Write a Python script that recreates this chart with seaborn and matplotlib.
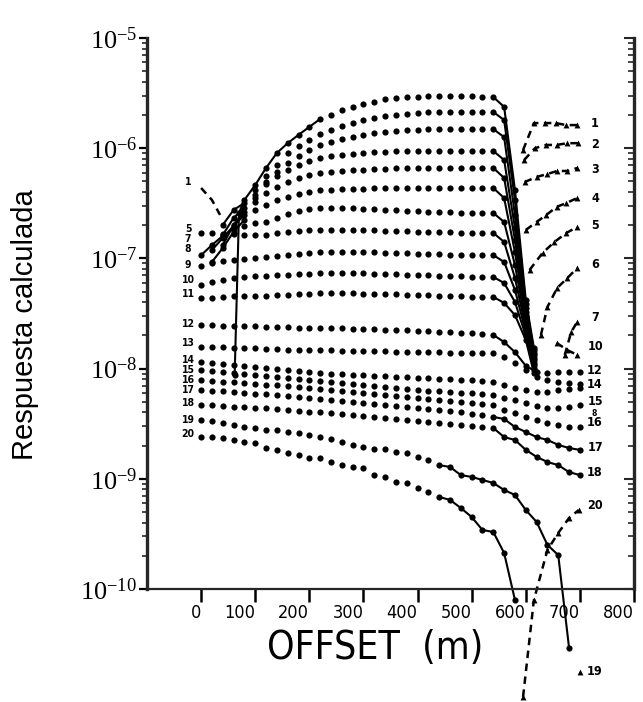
import numpy as np
import pandas as pd
import matplotlib
matplotlib.use("Agg")
import matplotlib.pyplot as plt
import matplotlib.transforms as mtransforms
import seaborn as sns
from matplotlib.ticker import LogLocator, FuncFormatter, NullFormatter, FixedLocator

# ---------------- data ----------------
OFFSETS = [0, 20, 40, 60, 80, 100, 120, 140, 160, 180, 200, 220, 240, 260,
           280, 300, 320, 340, 360, 380, 400, 420, 440, 460, 480, 500, 520, 540]
TAIL_X = [560, 580, 600, 615]
TAIL_X_LONG = [560, 580, 600, 620, 640, 660, 680, 700]
X_TICKS = [0, 100, 200, 300, 400, 500, 600, 700, 800]
Y_DECADES = [1e-10, 1e-9, 1e-8, 1e-7, 1e-6, 1e-5]

C01_X = [62, 70, 80, 100, 120, 140, 160, 180, 200, 220, 240, 260, 280, 300,
         320, 340, 360, 380, 400, 420, 440, 460, 480, 500, 520, 540]
C01_Y = [8.75e-9, 2.58e-7, 3.39e-7, 4.63e-7, 6.61e-7, 9.04e-7, 1.11e-6, 1.32e-6,
         1.56e-6, 1.84e-6, 2.0e-6, 2.22e-6, 2.37e-6, 2.52e-6, 2.63e-6, 2.80e-6,
         2.85e-6, 2.91e-6, 2.91e-6, 2.98e-6, 2.98e-6, 2.98e-6, 2.98e-6, 2.98e-6,
         2.91e-6, 2.91e-6]
C01_TAIL = [2.37e-6, 4.18e-7, 4.19e-8, 1.54e-8]
C01_NEG_LEFT_X = [0, 20, 35]
C01_NEG_LEFT_Y = [4.35e-7, 3.39e-7, 2.48e-7]
C01_NEG_X = [595, 615, 635, 655, 675, 695]
C01_NEG_Y = [9.63e-7, 1.69e-6, 1.69e-6, 1.69e-6, 1.62e-6, 1.62e-6]

C02_Y = [2.01e-7, 2.75e-7, 3.18e-7, 4.18e-7, 5.6e-7, 7.04e-7, 9.04e-7, 1.05e-6,
         1.19e-6, 1.35e-6, 1.46e-6, 1.59e-6, 1.69e-6, 1.80e-6, 1.88e-6, 1.96e-6,
         2.0e-6, 2.04e-6, 2.09e-6, 2.13e-6, 2.13e-6, 2.13e-6, 2.13e-6, 2.13e-6,
         2.13e-6, 2.13e-6]
C02_TAIL = [1.80e-6, 3.39e-7, 3.86e-8, 1.47e-8]
C02_NEG_X = [597, 617, 637, 657, 677, 697]
C02_NEG_Y = [7.81e-7, 1.0e-6, 1.07e-6, 1.07e-6, 1.11e-6, 1.11e-6]

C03_Y = [1.63e-7, 2.33e-7, 2.87e-7, 3.76e-7, 4.93e-7, 6.08e-7, 7.34e-7, 8.49e-7,
         9.63e-7, 1.07e-6, 1.14e-6, 1.21e-6, 1.26e-6, 1.32e-6, 1.37e-6, 1.40e-6,
         1.43e-6, 1.46e-6, 1.46e-6, 1.49e-6, 1.49e-6, 1.49e-6, 1.49e-6, 1.49e-6,
         1.49e-6, 1.49e-6]
C03_TAIL = [1.26e-6, 2.48e-7, 3.55e-8, 1.39e-8]
C03_NEG_X = [598, 620, 640, 658, 677, 695]
C03_NEG_Y = [4.93e-7, 5.48e-7, 5.83e-7, 6.21e-7, 6.21e-7, 6.61e-7]

C04_Y = [1.32e-7, 2.01e-7, 2.64e-7, 3.53e-7, 4.73e-7, 5.6e-7, 6.34e-7, 7.04e-7,
         7.65e-7, 8.15e-7, 8.49e-7, 8.68e-7, 8.86e-7, 9.04e-7, 9.24e-7, 9.24e-7,
         9.43e-7, 9.43e-7, 9.43e-7, 9.43e-7, 9.43e-7, 9.43e-7, 9.43e-7, 9.43e-7,
         9.43e-7, 9.43e-7]
C04_TAIL = [7.81e-7, 1.89e-7, 3.26e-8, 1.33e-8]
C04_NEG_X = [600, 620, 638, 657, 675, 695]
C04_NEG_Y = [1.81e-7, 2.14e-7, 2.48e-7, 2.93e-7, 3.18e-7, 3.53e-7]

C05_Y = [1.19e-7, 1.53e-7, 1.97e-7, 2.48e-7, 3.25e-7, 3.92e-7, 4.45e-7, 4.93e-7,
         5.37e-7, 5.71e-7, 5.96e-7, 6.08e-7, 6.21e-7, 6.34e-7, 6.34e-7, 6.48e-7,
         6.48e-7, 6.61e-7, 6.61e-7, 6.61e-7, 6.61e-7, 6.61e-7, 6.61e-7, 6.61e-7,
         6.61e-7, 6.61e-7, 6.61e-7]
C05_TAIL = [5.37e-7, 1.47e-7, 3.0e-8, 1.25e-8]
C05_NEG_X = [607, 631, 653, 675, 695]
C05_NEG_Y = [7.85e-8, 1.12e-7, 1.41e-7, 1.70e-7, 1.93e-7]

C06_Y = [9.28e-8, 1.24e-7, 1.74e-7, 2.23e-7, 2.75e-7, 3.05e-7, 3.39e-7, 3.61e-7,
         3.84e-7, 4.0e-7, 4.18e-7, 4.18e-7, 4.26e-7, 4.26e-7, 4.26e-7, 4.35e-7,
         4.35e-7, 4.35e-7, 4.35e-7, 4.35e-7, 4.35e-7, 4.35e-7, 4.35e-7, 4.35e-7,
         4.35e-7, 4.35e-7, 4.35e-7]
C06_TAIL = [3.53e-7, 1.14e-7, 2.76e-8, 1.20e-8]
C06_NEG_X = [628, 640, 658, 677, 695]
C06_NEG_Y = [2.02e-8, 3.62e-8, 5.39e-8, 6.64e-8, 8.18e-8]

C07_Y = [1.07e-7, 1.32e-7, 1.60e-7, 1.85e-7, 1.97e-7, 2.10e-7, 2.14e-7, 2.33e-7,
         2.53e-7, 2.69e-7, 2.81e-7, 2.87e-7, 2.87e-7, 2.87e-7, 2.87e-7, 2.81e-7,
         2.81e-7, 2.75e-7, 2.75e-7, 2.69e-7, 2.69e-7, 2.64e-7, 2.64e-7, 2.64e-7,
         2.58e-7, 2.58e-7, 2.58e-7, 2.58e-7]
C07_TAIL = [2.14e-7, 8.71e-8, 2.54e-8, 1.12e-8]
C07_NEG_X = [672, 684, 695]
C07_NEG_Y = [1.33e-8, 2.15e-8, 2.65e-8]

C08_Y = [1.70e-7, 1.70e-7, 1.66e-7, 1.66e-7, 1.63e-7, 1.63e-7, 1.63e-7, 1.70e-7,
         1.74e-7, 1.77e-7, 1.81e-7, 1.81e-7, 1.81e-7, 1.81e-7, 1.81e-7, 1.81e-7,
         1.81e-7, 1.77e-7, 1.77e-7, 1.77e-7, 1.74e-7, 1.74e-7, 1.74e-7, 1.74e-7,
         1.70e-7, 1.70e-7, 1.70e-7, 1.70e-7]
C08_TAIL = [1.41e-7, 6.64e-8, 2.34e-8, 1.08e-8]

C09_Y = [8.53e-8, 9.08e-8, 9.47e-8, 9.67e-8, 9.88e-8, 1.01e-7, 1.03e-7, 1.05e-7,
         1.07e-7, 1.10e-7, 1.12e-7, 1.14e-7, 1.14e-7, 1.14e-7, 1.14e-7, 1.14e-7,
         1.14e-7, 1.12e-7, 1.12e-7, 1.12e-7, 1.10e-7, 1.10e-7, 1.10e-7, 1.07e-7,
         1.07e-7, 1.07e-7, 1.07e-7, 1.07e-7]
C09_TAIL = [9.28e-8, 5.17e-8, 2.15e-8, 1.01e-8]

C10_Y = [5.74e-8, 6.11e-8, 6.37e-8, 6.64e-8, 6.78e-8, 6.92e-8, 6.92e-8, 7.07e-8,
         7.07e-8, 7.22e-8, 7.22e-8, 7.37e-8, 7.37e-8, 7.37e-8, 7.37e-8, 7.37e-8,
         7.22e-8, 7.22e-8, 7.22e-8, 7.07e-8, 7.07e-8, 7.07e-8, 6.92e-8, 6.92e-8,
         6.92e-8, 6.78e-8, 6.78e-8, 6.78e-8]
C10_TAIL = [5.98e-8, 4.02e-8, 1.98e-8, 9.7e-9]
C10_NEG_X = [657, 677, 695]
C10_NEG_Y = [1.71e-8, 1.47e-8, 1.33e-8]

C11_Y = [4.37e-8, 4.37e-8, 4.47e-8, 4.56e-8, 4.56e-8, 4.56e-8, 4.56e-8, 4.66e-8,
         4.66e-8, 4.75e-8, 4.75e-8, 4.85e-8, 4.85e-8, 4.85e-8, 4.85e-8, 4.75e-8,
         4.75e-8, 4.75e-8, 4.75e-8, 4.66e-8, 4.66e-8, 4.66e-8, 4.56e-8, 4.56e-8,
         4.56e-8, 4.47e-8, 4.47e-8, 4.47e-8]
C11_TAIL = [3.94e-8, 3.06e-8, 1.82e-8, 9.12e-9]

C12_Y = [2.49e-8, 2.49e-8, 2.43e-8, 2.43e-8, 2.43e-8, 2.43e-8, 2.38e-8, 2.38e-8,
         2.38e-8, 2.34e-8, 2.34e-8, 2.34e-8, 2.34e-8, 2.34e-8, 2.29e-8, 2.29e-8,
         2.29e-8, 2.24e-8, 2.24e-8, 2.24e-8, 2.19e-8, 2.19e-8, 2.15e-8, 2.15e-8,
         2.10e-8, 2.10e-8, 2.06e-8, 2.02e-8]
C12_TAIL = [1.74e-8, 1.41e-8, 1.06e-8, 9.31e-9, 9.12e-9, 9.31e-9, 9.31e-9, 9.31e-9]

C13_Y = [1.57e-8, 1.57e-8, 1.57e-8, 1.54e-8, 1.54e-8, 1.54e-8, 1.51e-8, 1.51e-8,
         1.47e-8, 1.47e-8, 1.47e-8, 1.47e-8, 1.47e-8, 1.44e-8, 1.44e-8, 1.44e-8,
         1.44e-8, 1.44e-8, 1.41e-8, 1.41e-8, 1.41e-8, 1.41e-8, 1.41e-8, 1.39e-8,
         1.39e-8, 1.39e-8, 1.39e-8, 1.39e-8]
C13_TAIL = [1.27e-8, 1.12e-8, 9.7e-9, 8.39e-9, 7.88e-9, 7.55e-9, 7.40e-9, 7.25e-9]

C14_Y = [1.15e-8, 1.12e-8, 1.10e-8, 1.08e-8, 1.06e-8, 1.03e-8, 1.01e-8, 9.92e-9,
         9.7e-9, 9.51e-9, 9.31e-9, 9.12e-9, 8.93e-9, 8.93e-9, 8.75e-9, 8.75e-9,
         8.57e-9, 8.57e-9, 8.39e-9, 8.39e-9, 8.22e-9, 8.22e-9, 8.04e-9, 8.04e-9,
         7.88e-9, 7.88e-9, 7.72e-9, 7.55e-9]
C14_TAIL = [7.10e-9, 6.67e-9, 6.40e-9, 6.13e-9, 6.13e-9, 6.40e-9, 6.53e-9, 6.67e-9]

C15_Y = [9.7e-9, 9.51e-9, 9.31e-9, 9.12e-9, 8.93e-9, 8.75e-9, 8.57e-9, 8.39e-9,
         8.22e-9, 8.04e-9, 7.88e-9, 7.72e-9, 7.55e-9, 7.40e-9, 7.25e-9, 7.10e-9,
         6.95e-9, 6.81e-9, 6.67e-9, 6.53e-9, 6.40e-9, 6.26e-9, 6.26e-9, 6.13e-9,
         6.0e-9, 6.0e-9, 5.88e-9, 5.76e-9]
C15_TAIL = [5.41e-9, 5.19e-9, 4.87e-9, 4.58e-9, 4.39e-9, 4.39e-9, 4.48e-9, 4.67e-9]

C16_Y = [7.88e-9, 7.72e-9, 7.55e-9, 7.55e-9, 7.40e-9, 7.25e-9, 7.10e-9, 7.10e-9,
         6.95e-9, 6.81e-9, 6.67e-9, 6.53e-9, 6.40e-9, 6.26e-9, 6.13e-9, 6.0e-9,
         5.88e-9, 5.76e-9, 5.64e-9, 5.53e-9, 5.41e-9, 5.30e-9, 5.19e-9, 5.08e-9,
         4.98e-9, 4.87e-9, 4.77e-9, 4.67e-9]
C16_TAIL = [4.21e-9, 3.95e-9, 3.64e-9, 3.42e-9, 3.21e-9, 3.08e-9, 2.95e-9, 2.95e-9]

C17_Y = [6.40e-9, 6.26e-9, 6.26e-9, 6.13e-9, 6.0e-9, 5.88e-9, 5.88e-9, 5.76e-9,
         5.64e-9, 5.53e-9, 5.41e-9, 5.30e-9, 5.19e-9, 5.08e-9, 4.98e-9, 4.87e-9,
         4.77e-9, 4.67e-9, 4.58e-9, 4.48e-9, 4.39e-9, 4.30e-9, 4.21e-9, 4.12e-9,
         4.04e-9, 3.87e-9, 3.79e-9, 3.64e-9]
C17_TAIL = [3.49e-9, 2.95e-9, 2.66e-9, 2.39e-9, 2.25e-9, 2.03e-9, 1.90e-9, 1.83e-9]

C18_Y = [4.67e-9, 4.67e-9, 4.58e-9, 4.48e-9, 4.48e-9, 4.39e-9, 4.39e-9, 4.30e-9,
         4.21e-9, 4.12e-9, 4.04e-9, 4.04e-9, 3.95e-9, 3.87e-9, 3.79e-9, 3.72e-9,
         3.64e-9, 3.56e-9, 3.49e-9, 3.42e-9, 3.35e-9, 3.28e-9, 3.21e-9, 3.14e-9,
         3.08e-9, 3.01e-9, 2.95e-9, 2.89e-9]
C18_TAIL = [2.39e-9, 2.25e-9, 1.83e-9, 1.58e-9, 1.42e-9, 1.33e-9, 1.15e-9, 1.08e-9]

C19_Y = [3.42e-9, 3.35e-9, 3.21e-9, 3.08e-9, 2.95e-9, 2.89e-9, 2.77e-9, 2.77e-9,
         2.66e-9, 2.60e-9, 2.50e-9, 2.39e-9, 2.30e-9, 2.16e-9, 2.03e-9, 1.94e-9,
         1.86e-9, 1.86e-9, 1.75e-9, 1.71e-9, 1.58e-9, 1.48e-9, 1.33e-9, 1.28e-9,
         1.08e-9, 1.04e-9, 9.75e-10, 9.16e-10]
C19_TAIL_X = [560, 580, 600, 620, 640, 660, 680]
C19_TAIL = [7.91e-10, 7.13e-10, 5.21e-10, 4.06e-10, 2.51e-10, 2.03e-10, 2.92e-11]
C19_NEG_X = [700]
C19_NEG_Y = [1.77e-11]

C20_Y = [2.39e-9, 2.39e-9, 2.34e-9, 2.25e-9, 2.16e-9, 2.11e-9, 1.90e-9, 1.83e-9,
         1.71e-9, 1.64e-9, 1.54e-9, 1.54e-9, 1.42e-9, 1.33e-9, 1.28e-9, 1.25e-9,
         1.08e-9, 1.04e-9, 9.35e-10, 9.16e-10, 8.25e-10, 7.59e-10, 6.84e-10, 6.43e-10,
         5.43e-10, 4.50e-10, 3.43e-10, 3.29e-10]
C20_TAIL_X = [560, 580]
C20_TAIL = [2.12e-10, 7.95e-11]
C20_NEG_X = [595, 615, 640, 660, 680, 698]
C20_NEG_Y = [1.05e-11, 7.95e-11, 2.26e-10, 3.22e-10, 4.41e-10, 5.21e-10]

LEFT_LABELS = ["1", "5", "7", "8", "9", "10", "11", "12", "13", "14", "15",
               "16", "17", "18", "19", "20"]
LEFT_LABEL_Y = [4.93e-7, 1.85e-7, 1.50e-7, 1.22e-7, 8.71e-8, 6.37e-8, 4.75e-8,
                2.54e-8, 1.71e-8, 1.20e-8, 9.7e-9, 7.88e-9, 6.40e-9, 4.87e-9,
                3.42e-9, 2.55e-9]
RIGHT_LABELS = ["1", "2", "3", "4", "5", "6", "7", "10", "12", "14", "15",
                "16", "17", "18", "20", "19"]
RIGHT_LABEL_Y = [1.69e-6, 1.07e-6, 6.34e-7, 3.53e-7, 1.97e-7, 8.71e-8, 2.88e-8,
                 1.57e-8, 9.7e-9, 7.10e-9, 4.98e-9, 3.21e-9, 1.94e-9,
                 1.15e-9, 5.78e-10, 1.77e-11]
SMALL_LABEL = "8"
SMALL_LABEL_Y = 3.95e-9

CURVES = [
    dict(x=C01_X, y=C01_Y, tx=TAIL_X, ty=C01_TAIL, nx=C01_NEG_X, ny=C01_NEG_Y, head=10, line_from=540),
    dict(start=40, y=C02_Y, tx=TAIL_X, ty=C02_TAIL, nx=C02_NEG_X, ny=C02_NEG_Y, head=3, line_from=540),
    dict(start=40, y=C03_Y, tx=TAIL_X, ty=C03_TAIL, nx=C03_NEG_X, ny=C03_NEG_Y, head=3, line_from=540),
    dict(start=40, y=C04_Y, tx=TAIL_X, ty=C04_TAIL, nx=C04_NEG_X, ny=C04_NEG_Y, head=3, line_from=540),
    dict(start=20, y=C05_Y, tx=TAIL_X, ty=C05_TAIL, nx=C05_NEG_X, ny=C05_NEG_Y, head=4, line_from=540),
    dict(start=20, y=C06_Y, tx=TAIL_X, ty=C06_TAIL, nx=C06_NEG_X, ny=C06_NEG_Y, head=4, line_from=540),
    dict(start=0, y=C07_Y, tx=TAIL_X, ty=C07_TAIL, nx=C07_NEG_X, ny=C07_NEG_Y, head=4, line_from=540),
    dict(start=0, y=C08_Y, tx=TAIL_X, ty=C08_TAIL, line_from=540),
    dict(start=0, y=C09_Y, tx=TAIL_X, ty=C09_TAIL, line_from=540),
    dict(start=0, y=C10_Y, tx=TAIL_X, ty=C10_TAIL, nx=C10_NEG_X, ny=C10_NEG_Y, line_from=540),
    dict(start=0, y=C11_Y, tx=TAIL_X, ty=C11_TAIL, line_from=540),
    dict(start=0, y=C12_Y, tx=TAIL_X_LONG, ty=C12_TAIL, line_from=540, tail_line=4),
    dict(start=0, y=C13_Y, tx=TAIL_X_LONG, ty=C13_TAIL),
    dict(start=0, y=C14_Y, tx=TAIL_X_LONG, ty=C14_TAIL),
    dict(start=0, y=C15_Y, tx=TAIL_X_LONG, ty=C15_TAIL),
    dict(start=0, y=C16_Y, tx=TAIL_X_LONG, ty=C16_TAIL),
    dict(start=0, y=C17_Y, tx=TAIL_X_LONG, ty=C17_TAIL, line_from=540),
    dict(start=0, y=C18_Y, tx=TAIL_X_LONG, ty=C18_TAIL, line_from=540),
    dict(start=0, y=C19_Y, tx=C19_TAIL_X, ty=C19_TAIL, nx=C19_NEG_X, ny=C19_NEG_Y, line_from=440, neg_line=False),
    dict(start=0, y=C20_Y, tx=C20_TAIL_X, ty=C20_TAIL, nx=C20_NEG_X, ny=C20_NEG_Y, line_from=440),
]

# ---------------- style ----------------
sns.set_style("ticks")
plt.rcParams['font.family'] = ['Liberation Serif', 'DejaVu Serif']
plt.rcParams['mathtext.fontset'] = 'custom'
plt.rcParams['mathtext.rm'] = 'Liberation Serif'
plt.rcParams['mathtext.it'] = 'Liberation Serif:italic'

INK = "black"
fig = plt.figure(figsize=(6.43, 7.02), dpi=100)
ax = fig.add_axes([0.2286, 0.161, 0.7574, 0.7849])
ax.set_yscale('log')
ax.set_xlim(-100, 800)
ax.set_ylim(1e-10, 1e-5)

DASH = (0, (3.0, 2.2))


def solid(xs, ys, ls='-', lw=1.5):
    if len(xs) < 2:
        return
    df = pd.DataFrame({'offset': xs, 'resp': ys})
    sns.lineplot(data=df, x='offset', y='resp', ax=ax, color=INK, lw=lw,
                 sort=False, estimator=None, linestyle=ls, clip_on=False)


def dots(xs, ys, marker='o', s=20):
    df = pd.DataFrame({'offset': xs, 'resp': ys})
    sns.scatterplot(data=df, x='offset', y='resp', ax=ax, color=INK, marker=marker,
                    s=s, linewidth=0, clip_on=False, zorder=3)


for c in CURVES:
    mx = list(c['x']) if 'x' in c else OFFSETS[OFFSETS.index(c['start']):]
    my = list(c['y'])
    tx, ty = list(c['tx']), list(c['ty'])
    dots(mx + tx, my + ty)
    head = c.get('head', 0)
    if head > 1:
        solid(mx[:head], my[:head])
    lf = c.get('line_from')
    if lf is not None:
        i = mx.index(lf)
        n = c.get('tail_line', len(tx))
        solid(mx[i:] + tx[:n], my[i:] + ty[:n])
    if 'nx' in c:
        if c.get('neg_line', True):
            solid(c['nx'], c['ny'], ls=DASH, lw=1.8)
        dots(c['nx'], c['ny'], marker='^', s=18)

# curve 1 negative branch near the origin
solid(C01_NEG_LEFT_X, C01_NEG_LEFT_Y, ls=DASH, lw=1.8)

# curve numbers
lab_font = dict(family=['DejaVu Sans'], fontstretch='condensed', fontweight='bold',
                fontsize=7.5, color=INK, va='center', ha='center', clip_on=False)
for t, yv in zip(LEFT_LABELS, LEFT_LABEL_Y):
    ax.text(-24, yv, t, **lab_font)
for t, yv in zip(RIGHT_LABELS, RIGHT_LABEL_Y):
    ax.text(728, yv, t, **dict(lab_font, fontsize=9))
ax.text(722, SMALL_LABEL_Y, SMALL_LABEL, **dict(lab_font, fontsize=6, ha='left'))

# ---------------- axes styling ----------------
ax.set_xticks(X_TICKS)
ax.set_xticklabels([str(v) for v in X_TICKS], family=['DejaVu Sans'],
                   fontstretch='condensed', fontsize=13, ha='right')
shift = mtransforms.ScaledTranslation(7 / 100, 0, fig.dpi_scale_trans)
for lab in ax.get_xticklabels():
    lab.set_transform(lab.get_transform() + shift)
ax.xaxis.set_minor_locator(FixedLocator([]))

minor_vals = [m * d for d in Y_DECADES[:-1] for m in range(2, 10)]
ax.yaxis.set_major_locator(FixedLocator(Y_DECADES))
ax.yaxis.set_minor_locator(FixedLocator(minor_vals))
ax.yaxis.set_major_formatter(FuncFormatter(
    lambda v, p: r'$\mathregular{10^{%d}}$' % int(round(np.log10(v)))))
ax.yaxis.set_minor_formatter(NullFormatter())

ax.tick_params(axis='y', which='major', direction='out', length=6, width=1.6,
               pad=1, left=True, right=False, labelsize=19, colors=INK)
ax.tick_params(axis='y', which='minor', direction='out', length=3.5, width=1.2,
               left=True, right=False)
ax.tick_params(axis='x', which='major', direction='out', length=9, width=1.8,
               pad=2, colors=INK, top=False)

ax.spines['top'].set_visible(False)
ax.spines['right'].set_visible(False)
ax.spines['left'].set_linewidth(2.4)
ax.spines['bottom'].set_linewidth(1.6)

ax2 = ax.twinx()
ax2.set_yscale('log')
ax2.set_ylim(1e-10, 1e-5)
ax2.yaxis.set_major_locator(FixedLocator(Y_DECADES))
ax2.yaxis.set_minor_locator(FixedLocator(minor_vals))
ax2.yaxis.set_major_formatter(NullFormatter())
ax2.yaxis.set_minor_formatter(NullFormatter())
ax2.tick_params(axis='y', which='major', direction='in', length=7, width=1.5)
ax2.tick_params(axis='y', which='minor', direction='in', length=4.5, width=1.2)
ax2.xaxis.set_visible(False)
for side in ['top', 'left', 'bottom']:
    ax2.spines[side].set_visible(False)
ax2.spines['right'].set_linewidth(2.4)

ax.set_xlabel('OFFSET  (m)', family=['DejaVu Sans'], fontstretch='condensed',
              fontsize=28, color=INK)
ax.xaxis.set_label_coords(0.468, -0.072)
ax.set_ylabel('Respuesta calculada', family=['Liberation Sans', 'DejaVu Sans'],
              fontsize=21, color=INK)
ax.yaxis.set_label_coords(-0.222, 0.48)

fig.savefig('out.png', dpi=100)
